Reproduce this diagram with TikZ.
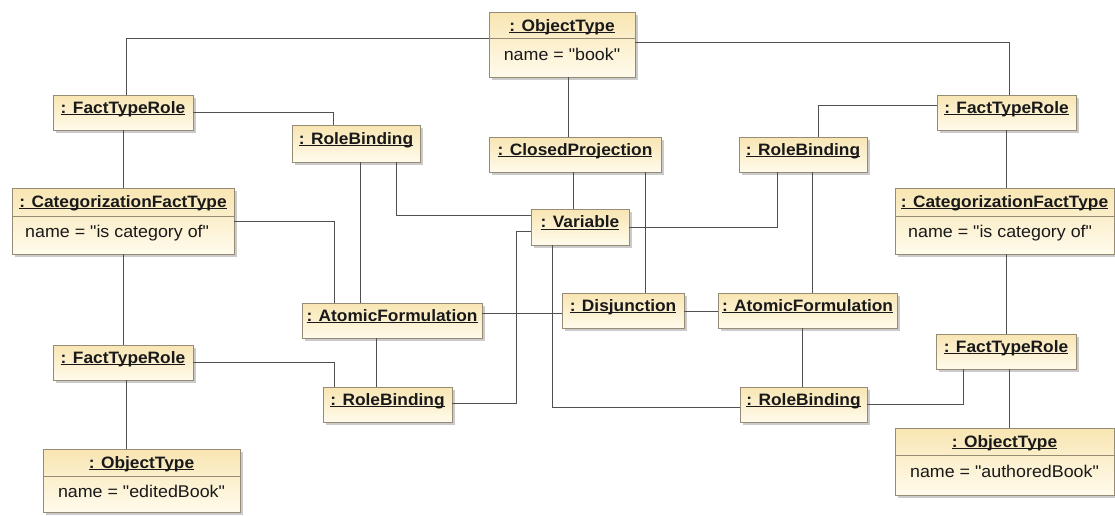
\documentclass[tikz,border=0pt]{standalone}
\usepackage{fontspec}
\setmainfont{Liberation Sans}[FakeStretch=1.05, Ligatures=TeXOff]
\usetikzlibrary{shadows}

\definecolor{objtop}{RGB}{248,229,178}
\definecolor{objbot}{RGB}{255,251,236}
\definecolor{objedge}{RGB}{150,140,118}
\definecolor{wirecol}{RGB}{80,80,80}
\definecolor{inktext}{RGB}{25,25,25}

% underline drawn just under the baseline, across the descenders
\newcommand\uln[1]{\setbox0\hbox{#1}\rlap{\rule[-2.4pt]{\wd0}{1.2pt}}\box0}

\tikzset{
  umlobj/.style={draw=objedge, line width=0.8pt, top color=objtop, bottom color=objbot,
    inner sep=0pt, outer sep=0pt, anchor=north west,
    drop shadow={shadow xshift=3pt, shadow yshift=-3pt, fill=black!45, opacity=0.45},
    text=inktext, font=\fontsize{16.5}{18}\selectfont\bfseries,
    text height=8pt, text depth=7pt},
  ttl/.style={inner sep=0pt, anchor=base, text=inktext, font=\fontsize{16.5}{18}\selectfont\bfseries},
  attr/.style={inner sep=0pt, anchor=base, text=inktext, font=\fontsize{17}{19}\selectfont},
  divider/.style={draw=objedge, line width=0.7pt},
  wire/.style={draw=wirecol, line width=0.9pt},
}

% object box: name, left, top, right, bottom, label
\newcommand\objbox[6]{\node[umlobj, minimum width={(#4-#2)*1pt}, minimum height={(#5-#3)*1pt}] (#1) at (#2,#3) {#6};}

\begin{document}
\begin{tikzpicture}[x=1pt, y=-1pt]
\fill[white] (0,0) rectangle (1115,515);
\useasboundingbox (0,0) rectangle (1115,515);

% ---- objects ----
\objbox{otBook}{489}{12}{635}{77}{}
\objbox{ftrTL}{53}{95}{193}{130}{\uln{: FactTypeRole}}
\objbox{ftrTR}{937}{95}{1076}{130}{\uln{: FactTypeRole}}
\objbox{rbTL}{292}{125}{420}{162}{\uln{: RoleBinding}}
\objbox{cp}{489}{137}{661}{172}{\uln{: ClosedProjection}}
\objbox{rbTR}{739}{137}{867}{172}{\uln{: RoleBinding}}
\objbox{cftL}{12}{188}{234}{254}{}
\objbox{cftR}{895}{188}{1114}{254}{}
\objbox{var}{531}{209}{629}{245}{\uln{: Variable}}
\objbox{afL}{302}{303}{482}{338}{\uln{: AtomicFormulation}}
\objbox{disj}{562}{293}{684}{328}{\uln{: Disjunction}}
\objbox{afR}{718}{293}{897}{328}{\uln{: AtomicFormulation}}
\objbox{ftrBL}{53}{345}{193}{380}{\uln{: FactTypeRole}}
\objbox{rbBL}{323}{387}{452}{422}{\uln{: RoleBinding}}
\objbox{rbBR}{740}{387}{867}{422}{\uln{: RoleBinding}}
\objbox{ftrBR}{936}{334}{1076}{369}{\uln{: FactTypeRole}}
\objbox{otEd}{43}{449}{240}{512}{}
\objbox{otAu}{895}{428}{1114}{495}{}

% ---- compartments of the attribute boxes ----
\draw[divider] (otBook.west |- 0,38) -- (otBook.east |- 0,38);
\node[ttl] (otBookT) at (562,31) {\uln{: ObjectType}};
\node[attr] (otBookA) at (562,60) {name = "book"};

\draw[divider] (cftL.west |- 0,216) -- (cftL.east |- 0,216);
\node[ttl] (cftLT) at (123,207) {\uln{: CategorizationFactType}};
\node[attr, anchor=base west] (cftLA) at (25,237) {name = "is category of"};

\draw[divider] (cftR.west |- 0,216) -- (cftR.east |- 0,216);
\node[ttl] (cftRT) at (1004.5,207) {\uln{: CategorizationFactType}};
\node[attr, anchor=base west] (cftRA) at (908,237) {name = "is category of"};

\draw[divider] (otEd.west |- 0,476) -- (otEd.east |- 0,476);
\node[ttl] (otEdT) at (141.5,468) {\uln{: ObjectType}};
\node[attr] (otEdA) at (141.5,497) {name = "editedBook"};

\draw[divider] (otAu.west |- 0,455) -- (otAu.east |- 0,455);
\node[ttl] (otAuT) at (1004.5,447) {\uln{: ObjectType}};
\node[attr] (otAuA) at (1004.5,477) {name = "authoredBook"};

% ---- links ----
\draw[wire] (otBook.west |- 0,38) -| (ftrTL.north -| 126,0);
\draw[wire] (otBook.east |- 0,42) -| (ftrTR.north -| 1009,0);
\draw[wire] (otBook.south -| 568,0) -- (cp.north -| 568,0);
\draw[wire] (ftrTL.south -| 123,0) -- (cftL.north -| 123,0);
\draw[wire] (ftrTL.east |- 0,112) -| (rbTL.north -| 333,0);
\draw[wire] (ftrTR.west |- 0,105) -| (rbTR.north -| 818,0);
\draw[wire] (ftrTR.south -| 1006,0) -- (cftR.north -| 1006,0);
\draw[wire] (cftL.east |- 0,221) -| (afL.north -| 334,0);
\draw[wire] (rbTL.south -| 360,0) -- (afL.north -| 360,0);
\draw[wire] (rbTL.south -| 396,0) |- (var.west |- 0,215);
\draw[wire] (cp.south -| 573,0) -- (var.north -| 573,0);
\draw[wire] (cp.south -| 645,0) -- (disj.north -| 645,0);
\draw[wire] (var.east |- 0,227) -| (rbTR.south -| 777,0);
\draw[wire] (rbTR.south -| 812,0) -- (afR.north -| 812,0);
\draw[wire] (var.west |- 0,231) -| (516,403) -- (rbBL.east |- 0,403);
\draw[wire] (var.south -| 552,0) |- (rbBR.west |- 0,407);
\draw[wire] (afL.south -| 376,0) -- (rbBL.north -| 376,0);
\draw[wire] (ftrBL.east |- 0,362) -| (rbBL.north -| 334,0);
\draw[wire] (cftL.south -| 123,0) -- (ftrBL.north -| 123,0);
\draw[wire] (ftrBL.south -| 126,0) -- (otEd.north -| 126,0);
\draw[wire] (afL.east |- 0,313) -- (disj.west |- 0,313);
\draw[wire] (disj.east |- 0,311) -- (afR.west |- 0,311);
\draw[wire] (afR.south -| 802,0) -- (rbBR.north -| 802,0);
\draw[wire] (rbBR.east |- 0,404) -| (ftrBR.south -| 963,0);
\draw[wire] (cftR.south -| 1006,0) -- (ftrBR.north -| 1006,0);
\draw[wire] (ftrBR.south -| 1009,0) -- (otAu.north -| 1009,0);
\end{tikzpicture}
\end{document}
